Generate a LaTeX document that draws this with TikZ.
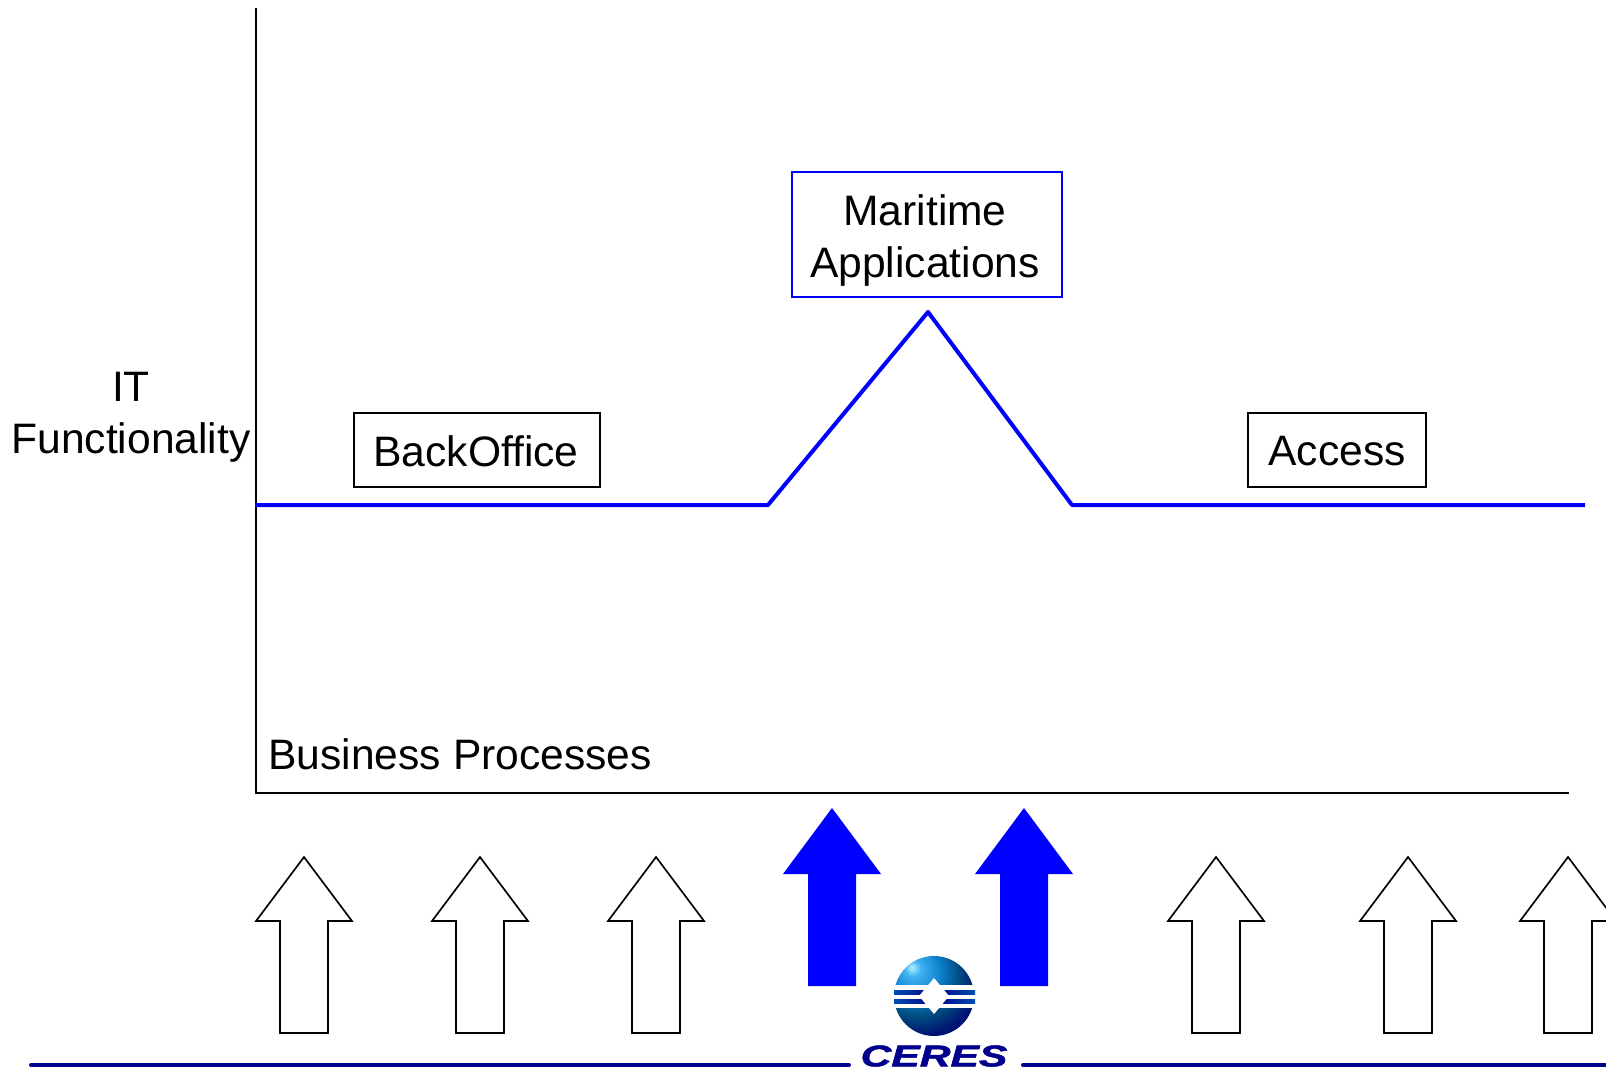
\documentclass[tikz,border=0pt]{standalone}
\usepackage{fontspec}
\setmainfont{Liberation Sans}

\definecolor{cerespure}{RGB}{0,0,255}
\definecolor{ceresnavy}{RGB}{0,0,140}
\pgfdeclareradialshading{ceresball}{\pgfpoint{-14bp}{18bp}}{
  rgb(0bp)=(0.7,0.95,1);
  rgb(5bp)=(0.25,0.7,0.95);
  rgb(16bp)=(0.05,0.5,0.8);
  rgb(26bp)=(0,0.3,0.5);
  rgb(36bp)=(0,0.08,0.45);
  rgb(60bp)=(0,0,0.5);
  rgb(100bp)=(0,0,0.5)}

\tikzset{
    axisline/.style={black,line width=0.8pt},
    levelline/.style={cerespure,line width=2pt,line join=round},
    labeltext/.style={font=\fontsize{21.3}{26}\selectfont,align=center,inner sep=0pt},
    upwhite/.style={draw=black,fill=white,line width=0.85pt,line join=miter},
    upblue/.style={fill=cerespure},
    baseline/.style={ceresnavy,line width=2pt}
}

\begin{document}
\begin{tikzpicture}[x=0.5pt,y=-0.5pt]
        \clip (0,0) rectangle (1606,1070);
        \useasboundingbox (0,0) rectangle (1606,1070);

        \coordinate (axistop) at (256,8);
        \coordinate (origin) at (256,793);
        \coordinate (axisend) at (1569,793);
        \draw[axisline] (axistop) -- (origin) -- (axisend);

        \coordinate (levelstart) at (255,505);
        \coordinate (riseleft) at (768,505);
        \coordinate (peak) at (928,312);
        \coordinate (riseright) at (1072,505);
        \coordinate (levelend) at (1585,505);
        \draw[levelline] (levelstart) -- (riseleft) -- (peak) -- (riseright) -- (levelend);

        \node[draw=black,line width=0.8pt,minimum width=123pt,minimum height=37pt] (backoffice) at (477,450) {};
        \node[labeltext] (backofficetext) at (476,451) {BackOffice};
        \node[draw=cerespure,line width=0.8pt,minimum width=135pt,minimum height=62.5pt] (maritime) at (927,234.5) {};
        \node[labeltext] (maritimetext) at (925,240) {Maritime\\Applications};
        \node[draw=black,line width=0.8pt,minimum width=89pt,minimum height=37pt] (access) at (1337,450) {};
        \node[labeltext] (accesstext) at (1337,451) {Access};

        \node[labeltext] (itlabel) at (131,417) {IT\\Functionality};
        \node[labeltext,anchor=west] (processes) at (268,754) {Business Processes};

        \foreach \x in {304,480,656,1216,1408,1568} {
            \draw[upwhite] (\x,857) -- ++(48,64) -- ++(-24,0) -- ++(0,112) -- ++(-48,0) -- ++(0,-112) -- ++(-24,0) -- cycle;
        }
        \foreach \x in {832,1024} {
            \fill[upblue] (\x,808) -- ++(49,66) -- ++(-25,0) -- ++(0,112) -- ++(-48,0) -- ++(0,-112) -- ++(-25,0) -- cycle;
        }

        \coordinate (baseleft) at (31,1065);
        \coordinate (basemidl) at (849,1065);
        \coordinate (basemidr) at (1023,1065);
        \coordinate (baseright) at (1606,1065);
        \draw[baseline,line cap=round] (baseleft) -- (basemidl);
        \draw[baseline,line cap=round] (basemidr) -- (baseright);

        \shade[shading=ceresball] (934,996) circle (40);
        \fill[white] (890,985) rectangle (978,1008);
        \fill[left color=ceresnavy!70!cyan,right color=ceresnavy!70!cyan,middle color=ceresnavy] (894,990) rectangle (975,994);
        \fill[left color=ceresnavy!70!cyan,right color=ceresnavy!70!cyan,middle color=ceresnavy] (894,999) rectangle (975,1003);
        \fill[white] (934,978) -- (949,996) -- (934,1014) -- (919,996) -- cycle;
        \node[text=ceresnavy,inner sep=0pt] (ceres) at (934,1056) {\scalebox{1.42}[1]{\fontsize{15}{16}\selectfont\bfseries\itshape\addfontfeature{FakeBold=1.5} CERES}};
    \end{tikzpicture}
\end{document}
